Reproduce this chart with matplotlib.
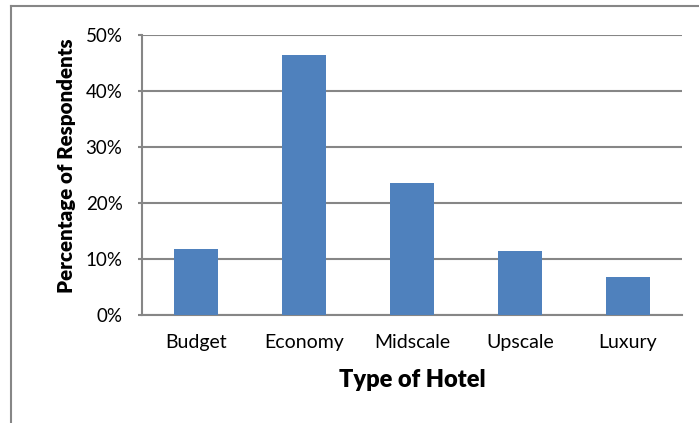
import matplotlib.pyplot as plt
from matplotlib.lines import Line2D
from matplotlib.ticker import PercentFormatter

plt.rcParams['font.family'] = ['Lato', 'DejaVu Sans']

hotel_types = ["Budget", "Economy", "Midscale", "Upscale", "Luxury"]
pct_respondents = [11.7, 46.3, 23.5, 11.4, 6.7]
y_ticks = [0, 10, 20, 30, 40, 50]

W, H = 699, 423
fig = plt.figure(figsize=(W / 100, H / 100), dpi=100)
ax = fig.add_axes([142 / W, (H - 314.7) / H, (682 - 142) / W, (314.7 - 34.7) / H])

grey = "#868686"
ax.bar(range(len(hotel_types)), pct_respondents, width=0.4, color="#4f81bd", zorder=3)

ax.set_xlim(-0.5, len(hotel_types) - 0.5)
ax.set_ylim(0, 50)
ax.set_yticks(y_ticks)
ax.yaxis.set_major_formatter(PercentFormatter(decimals=0))
ax.set_xticks(range(len(hotel_types)))
ax.set_xticklabels(hotel_types)

ax.grid(axis="y", color=grey, linewidth=1.5, zorder=0)
for s in ["top", "right"]:
    ax.spines[s].set_visible(False)
for s in ["left", "bottom"]:
    ax.spines[s].set_color(grey)
    ax.spines[s].set_linewidth(1.5)
ax.tick_params(labelsize=13.5, colors="black")
ax.tick_params(axis="x", labelsize=14, length=0, pad=14)
ax.tick_params(axis="y", length=3, width=1.5, color=grey, pad=11)

ax.set_xlabel("Type of Hotel", fontsize=17, fontweight="heavy", labelpad=13)
ax.set_ylabel("Percentage of Respondents", fontsize=14.8, fontweight="heavy")
ax.yaxis.set_label_coords(-0.122, 0.531)

# frame lines around the chart area
fig.add_artist(Line2D([11 / W, 11 / W], [0, 1 - 6 / H], color=grey, linewidth=1.5))
fig.add_artist(Line2D([11 / W, 1], [1 - 6 / H, 1 - 6 / H], color=grey, linewidth=1.5))

fig.savefig("out.png", dpi=100)
